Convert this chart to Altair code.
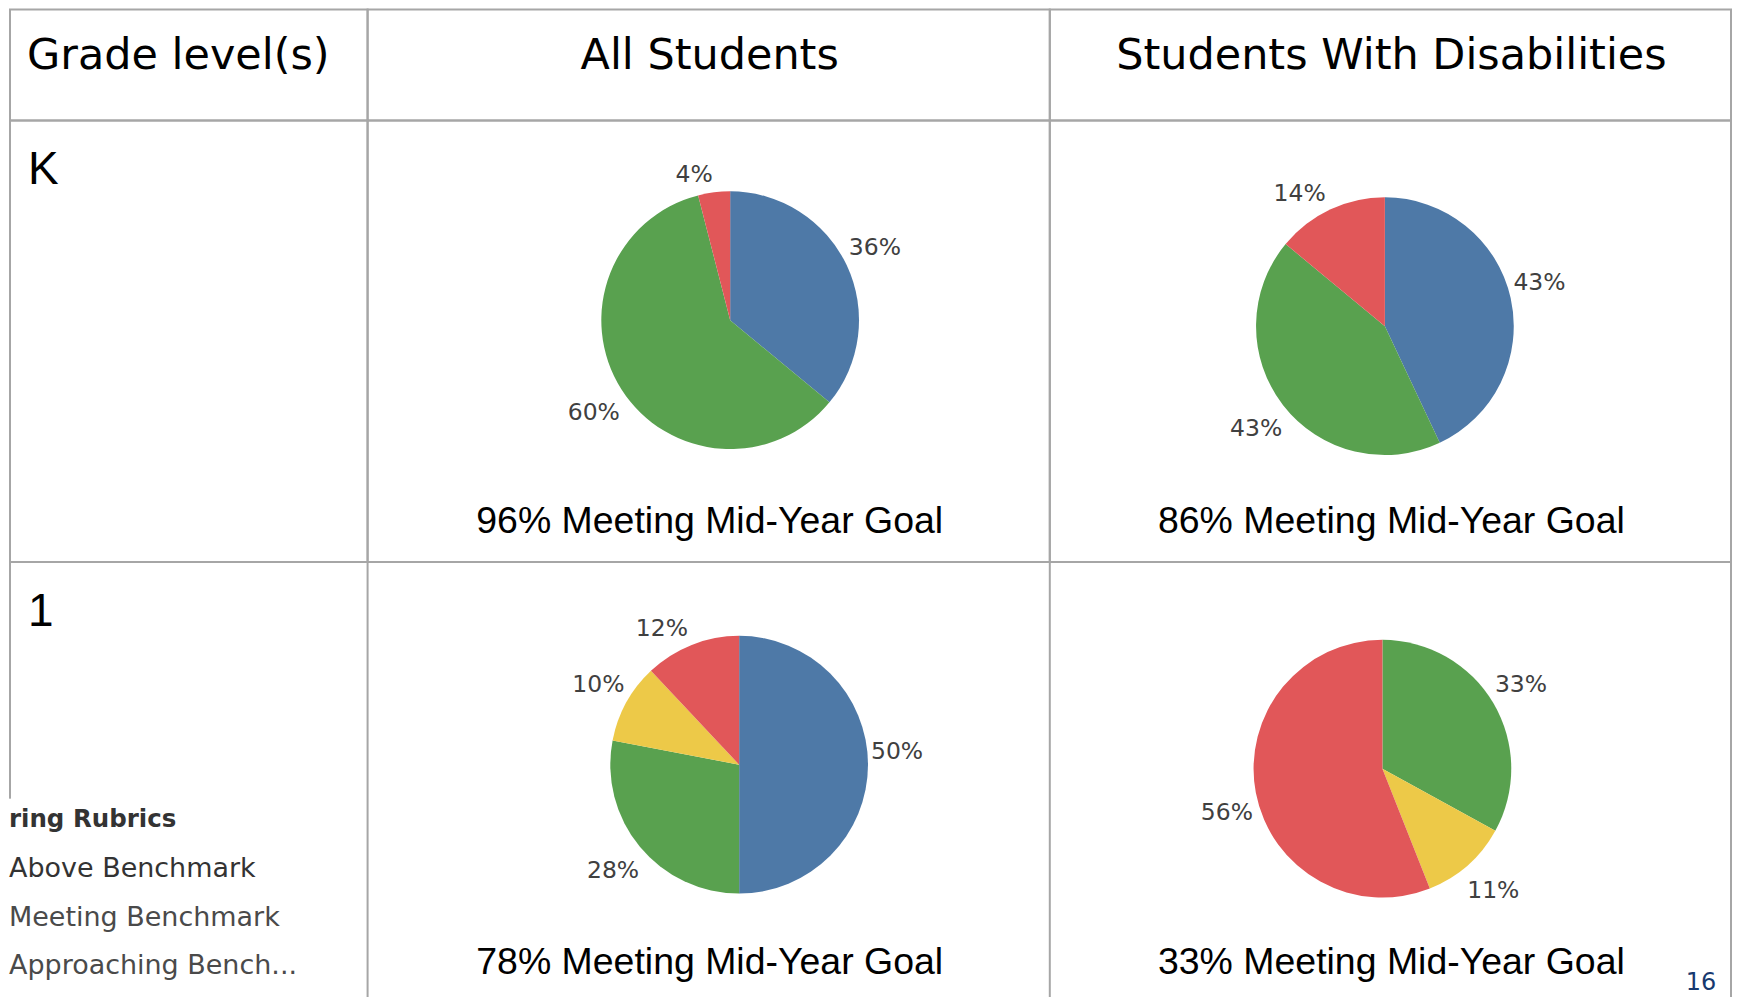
import altair as alt
import pandas as pd

# ---------------- data ----------------
rubrics = ["Above Benchmark", "Meeting Benchmark", "Approaching Benchmark", "Well Below Benchmark"]
rubric_colors = ["#4e79a7", "#59a14f", "#edc948", "#e15759"]

column_headers = ["Grade level(s)", "All Students", "Students With Disabilities"]
grades = ["K", "1"]

k_all = [36, 60, 0, 4]
k_swd = [43, 43, 0, 14]
g1_all = [50, 28, 10, 12]
g1_swd = [0, 33, 11, 56]

goal_k = [96, 86]
goal_1 = [78, 33]

legend_title = "ring Rubrics"
legend_items = ["Above Benchmark", "Meeting Benchmark", "Approaching Bench..."]
page_number = "16"

# ---------------- layout ----------------
COL_W = [358, 683, 682]
ROW_H = [111, 442, 440]
BORDER = "#a6a6a6"
PIE_R = 129
LABEL_R = 139


def one(text):
    return pd.DataFrame({"t": [text]})


def text_chart(text, **kw):
    return alt.Chart(one(text)).mark_text(**kw).encode(text="t:N")


def vrule(x, y2):
    return alt.Chart(one("")).mark_rule(color=BORDER, strokeWidth=2).encode(
        x=alt.value(x), y=alt.value(0), y2=alt.value(y2)
    )


def cell(layers, w, h, bordered=True):
    view = (alt.ViewBackground(stroke=BORDER, strokeWidth=2) if bordered
            else alt.ViewBackground(stroke="transparent"))
    return alt.layer(*layers).properties(width=w, height=h, view=view)


def pie_layers(values, cx, cy):
    df = pd.DataFrame({"rubric": rubrics, "pct": values, "idx": list(range(len(rubrics)))})
    df = df[df["pct"] > 0].copy()
    df["label"] = df["pct"].astype(str) + "%"
    tscale = alt.Scale(domain=[0, 100])
    base = alt.Chart(df).transform_stack(
        stack="pct", groupby=[], as_=["s0", "s1"],
        sort=[alt.SortField(field="idx", order="ascending")],
    ).transform_calculate(
        mid="(datum.s0 + datum.s1) / 2",
        ang="(datum.s0 + datum.s1) / 200 * 2 * PI",
    )
    arc = base.mark_arc(outerRadius=PIE_R, x=cx, y=cy).encode(
        theta=alt.Theta("s0:Q", scale=tscale, stack=False),
        theta2="s1:Q",
        color=alt.Color("rubric:N", scale=alt.Scale(domain=rubrics, range=rubric_colors), legend=None),
    )
    layers = [arc]
    # label placement: box corner facing the pie sits on a circle; side labels
    # are nudged inward horizontally and outward vertically (as in the source)
    for align, cond_h, sgn in [("left", "sin(datum.ang) >= 0", -1), ("right", "sin(datum.ang) < 0", 1)]:
        for baseline, cond_v, dy_top, dy_side in [("alphabetic", "cos(datum.ang) > -0.05", 0, -6),
                                                  ("top", "cos(datum.ang) <= -0.05", -4, 6)]:
            for kind, cond_k in [("top", "abs(sin(datum.ang)) < 0.5"), ("side", "abs(sin(datum.ang)) >= 0.5")]:
                dx = 0 if kind == "top" else 7 * sgn
                dy = dy_top if kind == "top" else dy_side
                layers.append(
                    base.transform_filter(f"{cond_h} && {cond_v} && {cond_k}").mark_text(
                        radius=LABEL_R, x=cx, y=cy, align=align, baseline=baseline, dx=dx, dy=dy,
                        fontSize=23.5, font="DejaVu Sans", color="#404040",
                    ).encode(theta=alt.Theta("mid:Q", scale=tscale, stack=False), text="label:N")
                )
    return layers


def caption(pct, w):
    return text_chart(f"{pct}% Meeting Mid-Year Goal", x=w / 2 + 1, y=413, align="center",
                      baseline="alphabetic", fontSize=37.5, font="Liberation Sans", color="black")


hdr_kw = dict(y=59, baseline="alphabetic", fontSize=43, font="DejaVu Sans", color="black")
grade_kw = dict(x=18, y=64, align="left", baseline="alphabetic", fontSize=46,
                font="Liberation Sans", color="black")

cells = [
    cell([text_chart(column_headers[0], x=17, align="left", **hdr_kw)], COL_W[0], ROW_H[0]),
    cell([text_chart(column_headers[1], x=COL_W[1] / 2 + 1, align="center", **hdr_kw)], COL_W[1], ROW_H[0]),
    cell([text_chart(column_headers[2], x=COL_W[2] / 2 + 1, align="center", **hdr_kw)], COL_W[2], ROW_H[0]),

    cell([text_chart(grades[0], **grade_kw)], COL_W[0], ROW_H[1]),
    cell(pie_layers(k_all, 363, 200) + [caption(goal_k[0], COL_W[1])], COL_W[1], ROW_H[1]),
    cell(pie_layers(k_swd, 335.5, 206) + [caption(goal_k[1], COL_W[2])], COL_W[2], ROW_H[1]),
]

leg_layers = [text_chart(legend_title, x=-1, y=265, align="left", baseline="alphabetic",
                         fontSize=24.5, fontWeight="bold", font="DejaVu Sans", color="#333333")]
for i, item in enumerate(legend_items):
    leg_layers.append(text_chart(item, x=-1, y=315 + 49 * i, align="left", baseline="alphabetic",
                                 fontSize=27, font="DejaVu Sans",
                                 color="#333333" if i == 0 else "#4a4a4a"))

cells += [
    cell([vrule(0, 237), text_chart(grades[1], **grade_kw)] + leg_layers,
         COL_W[0], ROW_H[2], bordered=False),
    cell([vrule(0, ROW_H[2])] + pie_layers(g1_all, 372, 203) + [caption(goal_1[0], COL_W[1])],
         COL_W[1], ROW_H[2], bordered=False),
    cell([vrule(0, ROW_H[2]), vrule(COL_W[2], ROW_H[2])] + pie_layers(g1_swd, 333, 207)
         + [caption(goal_1[1], COL_W[2]),
            text_chart(page_number, x=652, y=429, align="center", baseline="alphabetic",
                       fontSize=24, font="DejaVu Sans", color="#17396f")],
         COL_W[2], ROW_H[2], bordered=False),
]

chart = alt.concat(*cells, columns=3, spacing=0, bounds="flush").properties(
    padding=0
).configure(background="white")

chart.save("out.html", embed_options={"renderer": "svg", "actions": False})
